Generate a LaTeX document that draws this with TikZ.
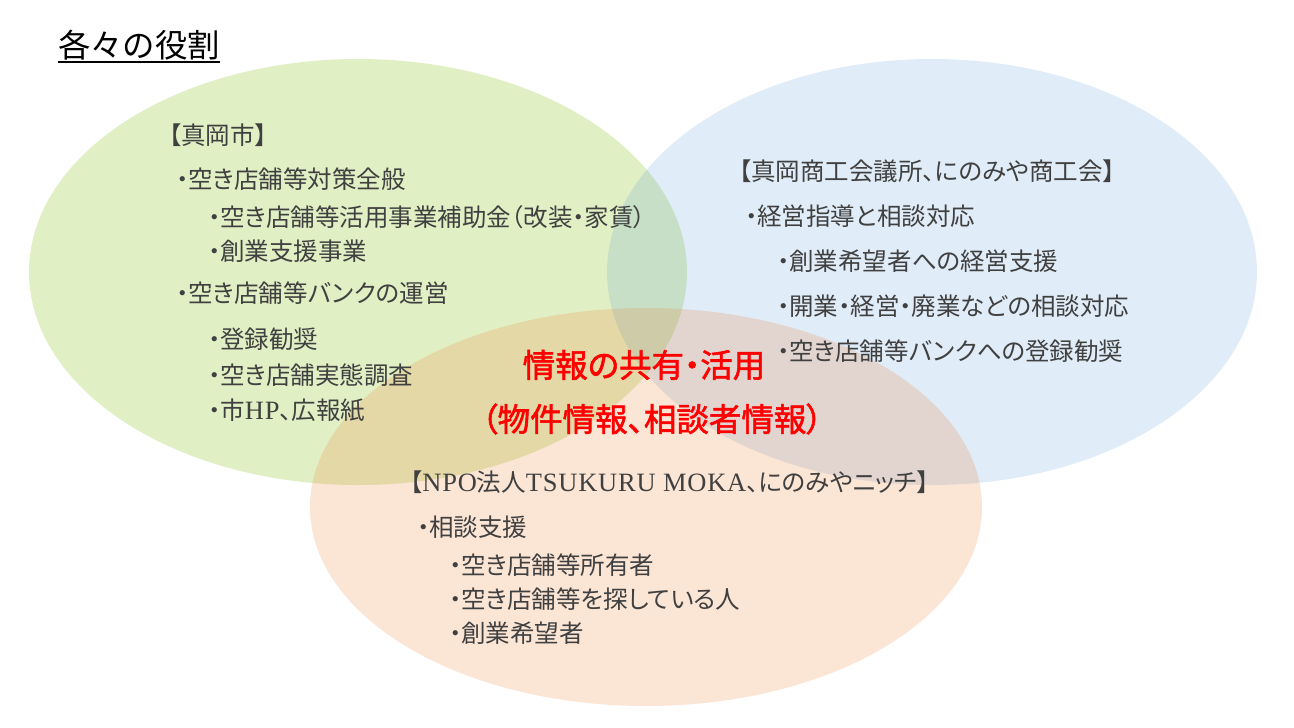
\documentclass[tikz,border=0pt]{standalone}
\usepackage{fontspec}
\setmainfont[RawFeature=+palt]{Noto Sans CJK JP}
\newfontfamily\plainjp{Noto Sans CJK JP}
\newfontfamily\hotfont[RawFeature=+palt,FakeBold=1.7]{Noto Sans CJK JP}
\newfontfamily\latinserif[Scale=1.08,LetterSpace=3]{Liberation Serif}
\newcommand{\lat}[1]{{\latinserif #1}}
\definecolor{txt}{HTML}{404040}
\definecolor{gblob}{RGB}{131,190,10}
\definecolor{bblob}{HTML}{5B9BD5}
\definecolor{oblob}{HTML}{ED7D31}
\tikzset{
  lbl/.style={anchor=west,inner sep=0pt,text=txt,font=\fontsize{24.5pt}{28pt}\selectfont},
  hot/.style={anchor=center,inner sep=0pt,text=red,font=\fontsize{32.5pt}{36pt}\hotfont}
}
\begin{document}
\begin{tikzpicture}[x=1pt,y=-1pt]
\useasboundingbox (0,0) rectangle (1294,728);
\fill[white] (0,0) rectangle (1294,728);
\fill[gblob,fill opacity=.24] (358,272) ellipse [x radius=329,y radius=213];
\fill[bblob,fill opacity=.19] (932,272) ellipse [x radius=325,y radius=213];
\fill[oblob,fill opacity=.2] (646,507) ellipse [x radius=336,y radius=199];
\node[anchor=west,inner sep=0pt,text=black,font=\fontsize{32.4pt}{36pt}\plainjp] (title) at (58,45) {各々の役割};
\draw[black,line width=1.2pt] (58,62) -- (220,62);
\node[lbl] (a0) at (169,135) {【真岡市】};
\node[lbl] (a1) at (176,179) {・空き店舗等対策全般};
\node[lbl] (a2) at (208,217) {・空き店舗等活用事業補助金（改装・家賃）};
\node[lbl] (a3) at (208,251) {・創業支援事業};
\node[lbl] (a4) at (176,293) {・空き店舗等バンクの運営};
\node[lbl] (a5) at (208,339) {・登録勧奨};
\node[lbl] (a6) at (208,375) {・空き店舗実態調査};
\node[lbl] (a7) at (208,410) {・市\lat{HP}、広報紙};
\node[lbl] (b0) at (739,171) {【真岡商工会議所、にのみや商工会】};
\node[lbl] (b1) at (745,216) {・経営指導と相談対応};
\node[lbl] (b2) at (777,261) {・創業希望者への経営支援};
\node[lbl] (b3) at (777,306) {・開業・経営・廃業などの相談対応};
\node[lbl] (b4) at (777,351) {・空き店舗等バンクへの登録勧奨};
\node[hot] (h1) at (644,365) {情報の共有・活用};
\node[hot] (h2) at (652,419) {（物件情報、相談者情報）};
\node[lbl] (c0) at (410,482) {【\lat{NPO}法人\lat{TSUKURU MOKA}、にのみやニッチ】};
\node[lbl] (c1) at (417,527) {・相談支援};
\node[lbl] (c2) at (449,565) {・空き店舗等所有者};
\node[lbl] (c3) at (449,599) {・空き店舗等を探している人};
\node[lbl] (c4) at (449,633) {・創業希望者};
\end{tikzpicture}
\end{document}
